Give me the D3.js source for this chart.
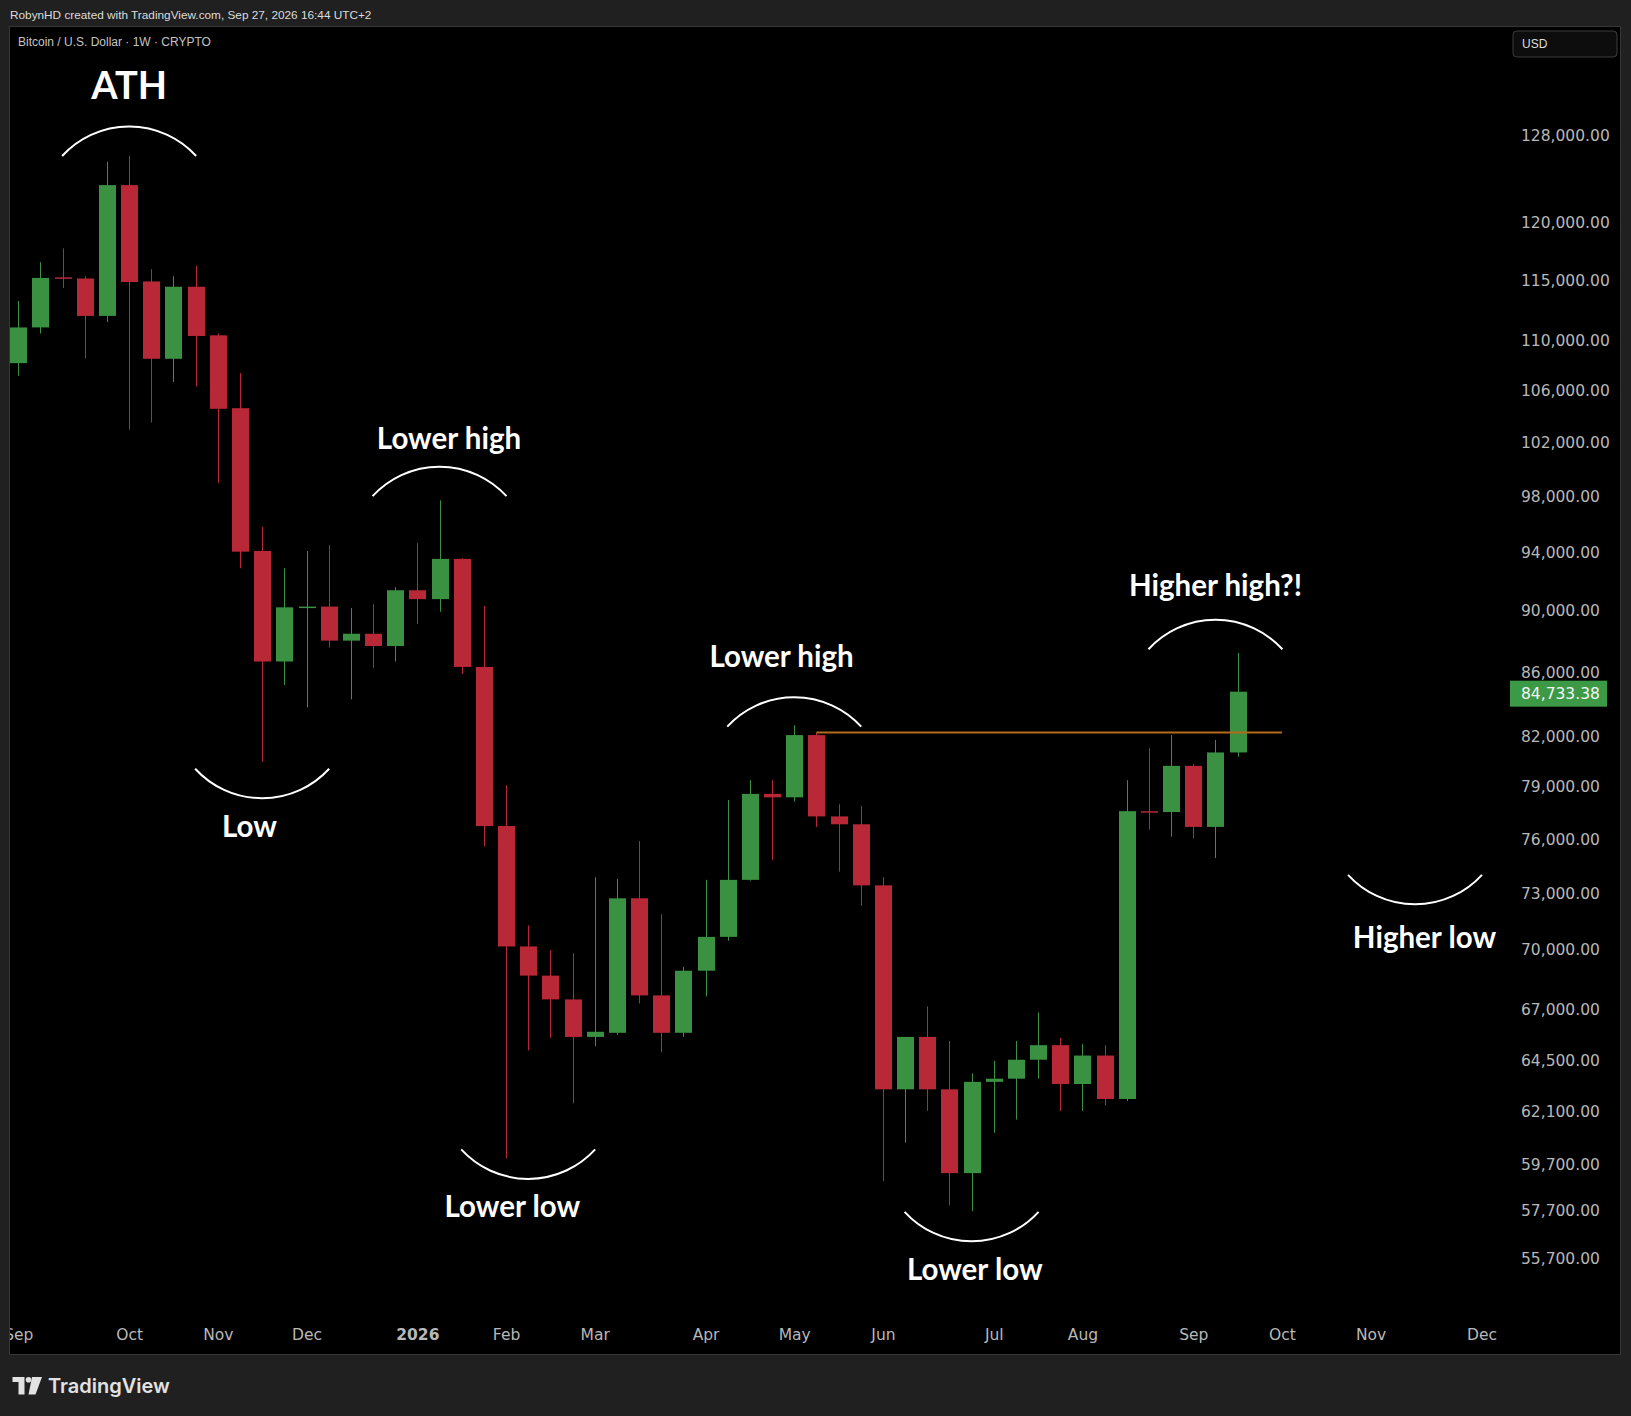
<!DOCTYPE html>
<html><head><meta charset="utf-8">
<script src="https://cdn.jsdelivr.net/npm/d3@7"></script>
<style>html,body{margin:0;padding:0;background:#202020;} svg{display:block}</style>
</head><body>
<svg id="c" width="1631" height="1416"></svg>
<script>
// ---- DATA (weekly BTC/USD candles) ----
const dates = ["2025-09-01","2025-09-08","2025-09-15","2025-09-22","2025-09-29","2025-10-06","2025-10-13","2025-10-20","2025-10-27",
"2025-11-03","2025-11-10","2025-11-17","2025-11-24","2025-12-01","2025-12-08","2025-12-15","2025-12-22","2025-12-29",
"2026-01-05","2026-01-12","2026-01-19","2026-01-26","2026-02-02","2026-02-09","2026-02-16","2026-02-23",
"2026-03-02","2026-03-09","2026-03-16","2026-03-23","2026-03-30","2026-04-06","2026-04-13","2026-04-20","2026-04-27",
"2026-05-04","2026-05-11","2026-05-18","2026-05-25","2026-06-01","2026-06-08","2026-06-15","2026-06-22","2026-06-29",
"2026-07-06","2026-07-13","2026-07-20","2026-07-27","2026-08-03","2026-08-10","2026-08-17","2026-08-24","2026-08-31",
"2026-09-07","2026-09-14","2026-09-21"];
const opens  = [108100,111000,115200,115100,111950,123350,114850,108450,114400,110350,104550,94050,86650,90200,90250,88000,88450,87650,
91350,90750,93500,86300,76700,70150,68650,67450,65600,65800,72700,67650,65800,68900,70650,73700,78550,78350,82050,77250,76800,
73400,63100,65600,63100,59300,63450,63600,64500,65200,63350,64700,62650,77550,77500,80200,76650,81000];
const highs  = [113200,116500,117700,115300,125500,126050,115900,115300,116200,110500,107300,95750,92850,94050,94450,90150,90400,91550,
94600,97650,93550,90300,79050,71250,69950,69800,73850,73750,75850,71850,69100,73700,78200,79350,79350,82650,82200,77950,77850,
73850,65600,67100,65400,63850,64450,65400,66800,65550,65250,65200,79350,81250,82050,80300,81750,87200];
const lows   = [107100,110500,114300,108500,111450,102900,103450,106600,106250,98900,92850,80450,85150,83750,87550,84250,86250,86650,
89100,89900,85850,75550,59950,64950,65550,62450,65150,65700,67250,64850,65600,67600,70450,73650,74800,78100,76650,74150,72300,
58950,60650,62100,57900,57650,61100,61700,63600,62100,62100,62350,62550,76500,76100,76000,74900,80750];
const closes = [111000,115150,115100,111950,123350,114800,108450,114400,110300,104500,94000,86650,90200,90250,88000,88450,87650,91350,
90750,93500,86300,76700,70150,68650,67450,65600,65850,72700,67650,65800,68900,70650,73700,78550,78350,82050,77250,76800,73400,
63100,65600,63100,59300,63450,63600,64500,65200,63350,64700,62650,77550,77500,80200,76650,81000,84733.38];

const priceTicks = [128000,120000,115000,110000,106000,102000,98000,94000,90000,86000,82000,79000,76000,73000,70000,67000,64500,62100,59700,57700,55700];
const timeTickDates = ["2025-09-01","2025-10-06","2025-11-03","2025-12-01","2026-01-05","2026-02-02","2026-03-02","2026-04-06","2026-05-04",
"2026-06-01","2026-07-06","2026-08-03","2026-09-07","2026-10-05","2026-11-02","2026-12-07"];
const timeTickLabels = ["Sep","Oct","Nov","Dec","2026","Feb","Mar","Apr","May","Jun","Jul","Aug","Sep","Oct","Nov","Dec"];
const lastPrice = 84733.38;
const levelPrice = 82200, levelStart = "2026-05-11", levelEnd = "2026-10-05";

const annLabels    = ["ATH","Low","Lower high","Lower low","Lower high","Lower low","Higher high?!","Higher low"];
const annLabelDate = ["2025-10-06","2025-11-13","2026-01-15","2026-02-04","2026-04-30","2026-06-30","2026-09-14","2026-11-19"];
const annLabelPrice= [131433,76057,101403,57400,86316,54800,90980,70088];
const annArcDate   = ["2025-10-06","2025-11-17","2026-01-12","2026-02-09","2026-05-04","2026-06-29","2026-09-14","2026-11-16"];
const annArcPrice  = [126042,80029,97947,60351,82564,57622,87438,73974];
const annArcUp     = [true,false,true,false,true,false,true,false];

// ---- STYLE ----
const UP = "#3a9142", DOWN = "#b92837";
const AXIS_FONT = "'DejaVu Sans', sans-serif";
const svg = d3.select("#c");
const W = 1631, H = 1416;
const pane = {x:10, y:27, w:1610, h:1327};

svg.append("rect").attr("width",W).attr("height",H).attr("fill","#202020");
svg.append("text").attr("x",10).attr("y",19).attr("fill","#dcdcdc")
  .style("font-family","'Liberation Sans', Arial, sans-serif").style("font-size","11.8px")
  .text("RobynHD created with TradingView.com, Sep 27, 2026 16:44 UTC+2");
svg.append("rect").attr("x",pane.x-0.5).attr("y",pane.y-0.5).attr("width",pane.w+1).attr("height",pane.h+1)
  .attr("fill","#000").attr("stroke","#363636");

const defs = svg.append("defs");
defs.append("clipPath").attr("id","pc").append("rect").attr("x",pane.x).attr("y",pane.y).attr("width",pane.w).attr("height",pane.h);

const x = d3.scaleUtc().domain([new Date("2025-09-01"), new Date("2026-12-07")]).range([18.3, 1481.5]);
const y = d3.scaleLog().domain([55700,128000]).range([1257.6,135.2]);

const g = svg.append("g").attr("clip-path","url(#pc)");

svg.append("text").attr("x",18).attr("y",46).attr("fill","#c4c4c4")
  .style("font-family","'Liberation Sans', Arial, sans-serif").style("font-size","12px")
  .text("Bitcoin / U.S. Dollar · 1W · CRYPTO");

// USD box
svg.append("rect").attr("x",1513).attr("y",31).attr("width",104).attr("height",26).attr("rx",4)
  .attr("fill","#0d0d0d").attr("stroke","#3c3c3c");
svg.append("text").attr("x",1522).attr("y",48).attr("fill","#dedede")
  .style("font-family","'Liberation Sans', Arial, sans-serif").style("font-size","12px").text("USD");

// candles
const candles = dates.map((d,i)=>({d:new Date(d),o:opens[i],h:highs[i],l:lows[i],c:closes[i]}));
const step = x(new Date("2025-09-08")) - x(new Date("2025-09-01"));
const bw = Math.round(step*0.77);
const cg = g.append("g");
cg.selectAll("line.w").data(candles).join("line").attr("class","w")
  .attr("x1",d=>Math.round(x(d.d))+0.5).attr("x2",d=>Math.round(x(d.d))+0.5)
  .attr("y1",d=>y(d.h)).attr("y2",d=>y(d.l))
  .attr("stroke",d=>d.c>=d.o?UP:DOWN).attr("stroke-width",1);
cg.selectAll("rect.b").data(candles).join("rect").attr("class","b")
  .attr("x",d=>Math.round(x(d.d))+0.5-bw/2)
  .attr("y",d=>y(Math.max(d.o,d.c)))
  .attr("width",bw)
  .attr("height",d=>Math.max(1.5, y(Math.min(d.o,d.c))-y(Math.max(d.o,d.c))))
  .attr("fill",d=>d.c>=d.o?UP:DOWN);

// level line
g.append("line").attr("x1",x(new Date(levelStart))).attr("x2",x(new Date(levelEnd)))
  .attr("y1",y(levelPrice)).attr("y2",y(levelPrice)).attr("stroke","#b36a1c").attr("stroke-width",2);

// annotations
const chord = 134, sag = 29.5, R = (chord/2)*(chord/2)/(2*sag) + sag/2;
annLabels.forEach((t,i)=>{
  const cx = x(new Date(annArcDate[i])), cy = y(annArcPrice[i]);
  g.append("path").attr("d",`M${cx-chord/2},${cy} A${R},${R} 0 0 ${annArcUp[i]?1:0} ${cx+chord/2},${cy}`)
    .attr("fill","none").attr("stroke","#ffffff").attr("stroke-width",2);
  g.append("text").attr("x",x(new Date(annLabelDate[i]))).attr("y",y(annLabelPrice[i]))
    .attr("text-anchor","middle").attr("fill","#ffffff")
    .style("font-family","Lato, sans-serif").style("font-weight","700")
    .style("font-size", i===0?"38px":"29.5px").text(t);
});

// price axis
const ya = svg.append("g").attr("transform","translate(1521,0)")
  .call(d3.axisRight(y).tickValues(priceTicks).tickFormat(d3.format(",.2f")).tickSize(0).tickPadding(0));
ya.select(".domain").remove();
ya.selectAll("text").attr("fill","#b8b8b8").style("font-family",AXIS_FONT).style("font-size","15.5px").attr("dy","0.36em");

// last price label
const ly = y(lastPrice)+2;
svg.append("rect").attr("x",1510).attr("y",ly-13).attr("width",97).attr("height",26).attr("fill","#3c9a47");
svg.append("text").attr("x",1521).attr("y",ly).attr("dy","0.36em").attr("fill","#f4f4f4")
  .style("font-family",AXIS_FONT).style("font-size","15.5px").text(d3.format(",.2f")(lastPrice));

// time axis
const xa = svg.append("g").attr("clip-path","url(#pc)").append("g").attr("transform","translate(0,1334)")
  .call(d3.axisBottom(x).tickValues(timeTickDates.map(d=>new Date(d))).tickFormat((d,i)=>timeTickLabels[i]).tickSize(0).tickPadding(0));
xa.select(".domain").remove();
xa.selectAll("text").attr("y",0).attr("dy","0.36em").attr("fill","#b8b8b8")
  .style("font-family",AXIS_FONT).style("font-size","15.5px")
  .style("font-weight",(d,i)=>timeTickLabels[i]==="2026"?"700":"400");

// TradingView logo
const lg = svg.append("g").attr("fill","#e2e2e2");
lg.append("path").attr("d","M12.5,1377 H24.5 V1394.5 H18.5 V1382 H12.5 Z");
lg.append("circle").attr("cx",28.5).attr("cy",1379.8).attr("r",2.8);
lg.append("path").attr("d","M32,1377 H42 L35.5,1394.5 H28.5 Z");
svg.append("text").attr("x",48).attr("y",1393).attr("fill","#e2e2e2")
  .style("font-family","Inter, sans-serif").style("font-weight","600").style("font-size","20px").text("TradingView");
</script>
</body></html>
